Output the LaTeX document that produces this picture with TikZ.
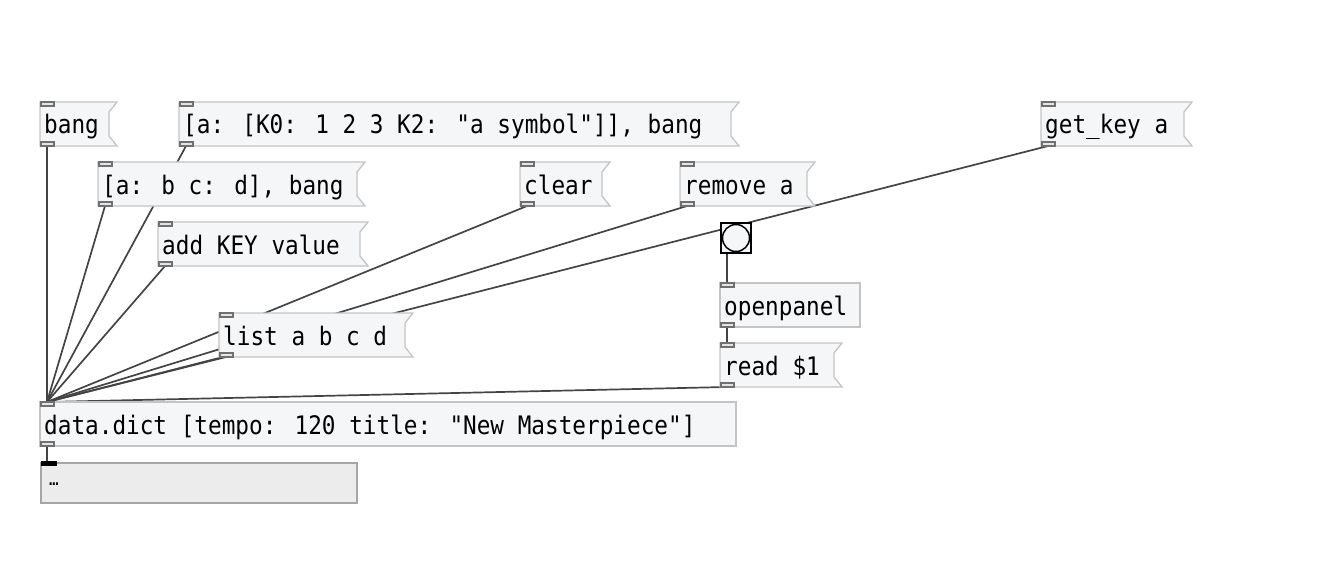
\documentclass[tikz,border=0pt]{standalone}
\usepackage{fontspec}
\newfontfamily\pdfont[FakeStretch=0.89]{DejaVu Sans Mono}
\pgfdeclarelayer{bg}
\pgfsetlayers{bg,main}
\definecolor{boxfill}{HTML}{F5F6F8}
\definecolor{boxline}{HTML}{C4C4C4}
\definecolor{iolinec}{HTML}{707070}
\definecolor{iofill}{HTML}{E4E4E4}
\definecolor{wire}{HTML}{444444}
\definecolor{lbfill}{HTML}{ECECEC}
\definecolor{lbline}{HTML}{A6A6A6}
\tikzset{
  msgbox/.style={draw=boxline, fill=boxfill, line width=1.3pt},
  iolet/.style={draw=iolinec, fill=iofill, line width=1.3pt},
  pdtext/.style={anchor=base west, inner sep=0pt, font=\pdfont\fontsize{25.5}{28}\selectfont},
  conn/.style={draw=wire, line width=1.7pt},
}
\newcommand\pdio[3]{%
  \draw[iolet] (#2+1,#3) rectangle ++(13,4);
}
% name, left x, top y, right x, text
\newcommand\pdmsg[5]{%
  \draw[msgbox] (#2,#3) -- (#4,#3) -- (#4-8,#3+10) -- (#4-8,#3+34) -- (#4,#3+44) -- (#2,#3+44) -- cycle;
  \node[pdtext] (#1) at (#2+4,#3+32) {#5};
  \pdio{}{#2}{#3}
  \pdio{}{#2}{#3+40}
  \coordinate (#1-in) at (#2+7,#3);
  \coordinate (#1-out) at (#2+7,#3+44);
}
\newcommand\pdobj[5]{%
  \draw[msgbox] (#2,#3) rectangle (#4,#3+44);
  \node[pdtext] (#1) at (#2+4,#3+32) {#5};
  \pdio{}{#2}{#3}
  \pdio{}{#2}{#3+40}
  \coordinate (#1-in) at (#2+7,#3);
  \coordinate (#1-out) at (#2+7,#3+44);
}
\begin{document}
\begin{tikzpicture}[x=1pt,y=-1pt]
\useasboundingbox (0,0) rectangle (1323,567);
\pdmsg{bang}{40}{102}{117}{bang}
\pdmsg{nested}{179}{102}{739}{[a: [K0: 1 2 3 K2: "a symbol"]], bang}
\pdmsg{getkey}{1041}{102}{1192}{get\_key a}
\pdmsg{abcd}{98}{162}{365}{[a: b c: d], bang}
\pdmsg{clear}{520}{162}{610}{clear}
\pdmsg{remove}{680}{162}{815}{remove a}
\pdmsg{add}{158}{222}{368}{add KEY value}
\pdobj{openpanel}{720}{283}{860}{openpanel}
\pdmsg{list}{219}{313}{413}{list a b c d}
\pdmsg{read}{720}{343}{842}{read \$1}
\pdobj{dict}{40}{402}{736}{data.dict [tempo: 120 title: "New Masterpiece"]}
% bang gui
\node[draw=black, fill=boxfill, line width=2.8pt, minimum size=30pt, inner sep=0pt] (bng) at (736,238) {};
\draw[black, line width=1.5pt] (bng.center) circle (13.5);
\coordinate (bng-out) at (727,254);
% list box
\node[draw=lbline, fill=lbfill, line width=2pt, minimum width=316pt, minimum height=40pt, inner sep=0pt, anchor=north west] (lbox) at (40,462) {};
\fill[black] (41,461) rectangle (57,466);
\coordinate (lbox-in) at (47,462);
\node[pdtext, font=\pdfont\fontsize{18}{22}\selectfont] (lboxtext) at (49,485) {…};
\begin{pgfonlayer}{bg}
\draw[conn] (bang-out) -- (dict-in);
\draw[conn] (nested-out) -- (dict-in);
\draw[conn] (abcd-out) -- (dict-in);
\draw[conn] (add-out) -- (dict-in);
\draw[conn] (clear-out) -- (dict-in);
\draw[conn] (remove-out) -- (dict-in);
\draw[conn] (list-out) -- (dict-in);
\draw[conn] (getkey-out) -- (dict-in);
\draw[conn] (read-out) -- (dict-in);
\draw[conn] (bng-out) -- (openpanel-in);
\draw[conn] (openpanel-out) -- (read-in);
\draw[conn] (dict-out) -- (lbox-in);
\end{pgfonlayer}
\end{tikzpicture}
\end{document}
